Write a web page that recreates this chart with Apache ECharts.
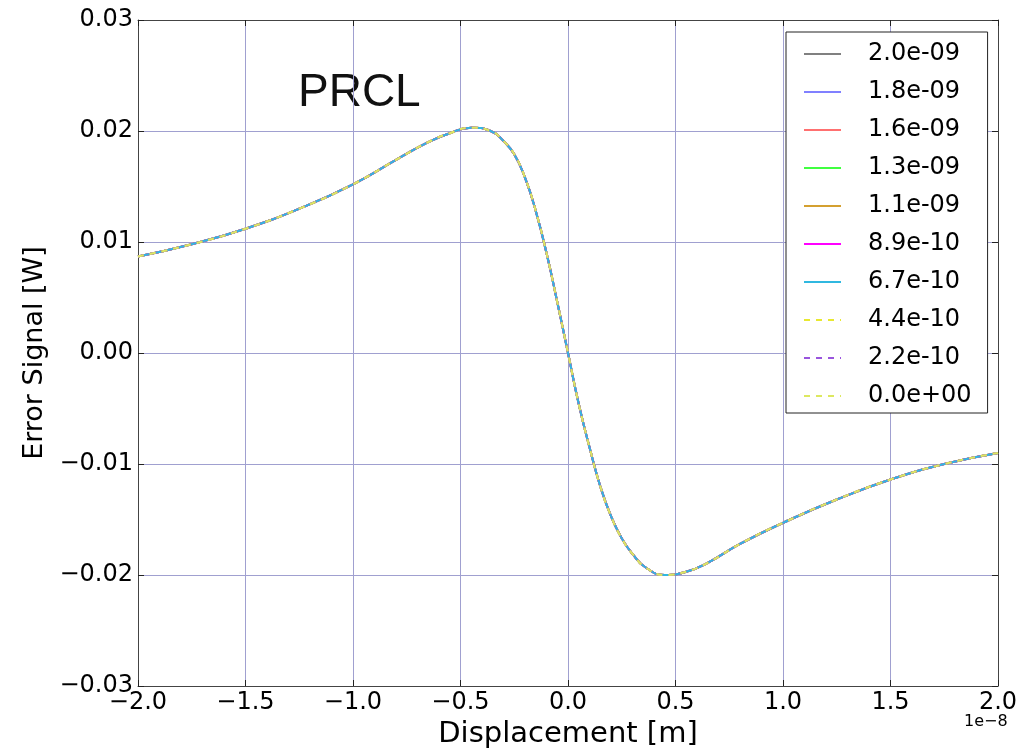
<!DOCTYPE html>
<html>
<head>
<meta charset="utf-8">
<script src="https://cdn.jsdelivr.net/npm/echarts@6/dist/echarts.min.js"></script>
<style>
html,body{margin:0;padding:0;background:#fff;overflow:hidden;}
#chart{width:1032px;height:751px;}
</style>
</head>
<body>
<div id="chart"></div>
<script>
// Displacement in units of 1e-8 m
const xs = [-2.0,-1.75,-1.5,-1.25,-1.0,-0.8,-0.65,-0.55,-0.45,-0.36,-0.3,-0.25,-0.2,-0.15,-0.1,-0.05,0,
            0.05,0.1,0.15,0.2,0.25,0.3,0.36,0.45,0.55,0.65,0.8,1.0,1.25,1.5,1.75,2.0];
// Error signal [W] (all curves overlap)
const ys = [0.0087,0.0098,0.0112,0.0130,0.0152,0.0174,0.0190,0.0198,0.0203,0.0200,0.0191,0.0179,0.0158,0.0128,0.0090,0.0046,0,
            -0.0046,-0.0085,-0.0120,-0.0147,-0.0167,-0.0181,-0.0193,-0.0200,-0.0197,-0.0189,-0.0172,-0.0153,-0.0132,-0.0114,-0.0100,-0.0090];
const seriesNames = ['2.0e-09','1.8e-09','1.6e-09','1.3e-09','1.1e-09','8.9e-10','6.7e-10','4.4e-10','2.2e-10','0.0e+00'];
const seriesColors = ['#808080','#8080ff','#ff7070','#40ff40','#d4a030','#ff00ff','#30b8e0','#e8e830','#9955dd','#dde860'];
const seriesDashed = [false,false,false,false,false,false,false,true,true,true];
const xTicks = {min:-2, max:2, interval:0.5};
const yTicks = {min:-0.03, max:0.03, interval:0.01};

const pts = xs.map((x,i)=>[x, ys[i]]);
const minus = s => s.replace('-', '\u2212');
const gridColor = '#a0a0d0';
const frameColor = '#444';

const chart = echarts.init(document.getElementById('chart'), null, {renderer:'canvas'});
const baseAxis = {
  axisLine:{show:true, onZero:false, lineStyle:{color:frameColor, width:1}},
  axisTick:{show:true, inside:true, length:6, lineStyle:{color:'#222'}},
};
chart.setOption({
  animation:false,
  backgroundColor:'#fff',
  grid:{left:138, width:860, top:20, height:666, containLabel:false, outerBoundsMode:'none'},
  legend:{
    orient:'vertical', left:786, top:32,
    padding:[10, 16, 5, 17],
    backgroundColor:'#fff', borderColor:'#222', borderWidth:1,
    itemWidth:37, itemHeight:14, itemGap:14,
    data: seriesNames,
    itemStyle:{opacity:0},
    lineStyle:{width:2},
    textStyle:{fontFamily:'DejaVu Sans', fontSize:24, color:'#000', lineHeight:24, padding:[0,0,0,22]}
  },
  xAxis:[
    Object.assign({}, baseAxis, {
      type:'value', position:'bottom', min:xTicks.min, max:xTicks.max, interval:xTicks.interval,
      name:'Displacement [m]', nameLocation:'middle', nameGap:32,
      nameTextStyle:{fontFamily:'DejaVu Sans', fontSize:29, color:'#000'},
      axisLabel:{fontFamily:'DejaVu Sans', fontSize:24, color:'#000', margin:5,
        formatter:v=>minus(v.toFixed(1))},
      splitLine:{show:true, lineStyle:{color:gridColor, width:1}}
    }),
    Object.assign({}, baseAxis, {
      type:'value', position:'top', min:xTicks.min, max:xTicks.max, interval:xTicks.interval,
      axisLabel:{show:false}, splitLine:{show:false}
    })
  ],
  yAxis:[
    Object.assign({}, baseAxis, {
      type:'value', position:'left', min:yTicks.min, max:yTicks.max, interval:yTicks.interval,
      name:'Error Signal [W]', nameLocation:'middle', nameGap:86, nameRotate:90,
      nameTextStyle:{fontFamily:'DejaVu Sans', fontSize:27, color:'#000'},
      axisLabel:{fontFamily:'DejaVu Sans', fontSize:24, color:'#000', margin:5,
        formatter:v=>minus(v.toFixed(2))},
      splitLine:{show:true, lineStyle:{color:gridColor, width:1}}
    }),
    Object.assign({}, baseAxis, {
      type:'value', position:'right', min:yTicks.min, max:yTicks.max, interval:yTicks.interval,
      axisLabel:{show:false}, splitLine:{show:false}
    })
  ],
  graphic:[
    {type:'text', left:298, top:70, style:{text:'PRCL', font:'46px "Liberation Sans", Arial, sans-serif', fill:'#111'}},
    {type:'text', left:964, top:714, style:{text:'1e\u22128', font:'16px "DejaVu Sans", sans-serif', fill:'#000'}}
  ],
  series: seriesNames.map((n,i)=>({
    name:n, type:'line', xAxisIndex:0, yAxisIndex:0,
    data:pts, showSymbol:false, symbol:'none', smooth:0.5,
    color:seriesColors[i],
    lineStyle:{color:seriesColors[i], width:2, type: seriesDashed[i] ? [6,6] : 'solid'},
    z: 2 + i
  }))
});
</script>
</body>
</html>
